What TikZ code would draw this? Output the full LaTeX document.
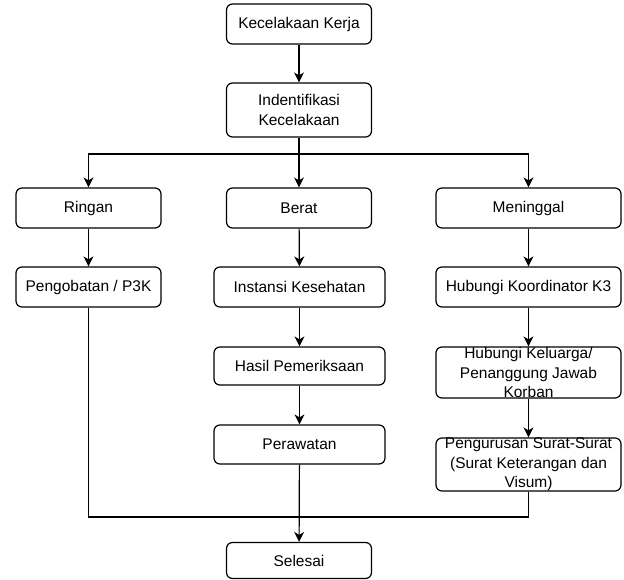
\documentclass[tikz,border=0pt]{standalone}
\usepackage{fontspec}
\setmainfont{Liberation Sans}
\usetikzlibrary{arrows.meta}

\begin{document}
\begin{tikzpicture}[x=1pt, y=-1pt,
    box/.style={draw, line width=1.2pt, rounded corners=6pt, fill=white, align=center,
        inner sep=0pt, minimum height=40pt, font=\fontsize{15.5}{19.5}\selectfont},
    line/.style={line width=1.2pt},
    arr/.style={line width=1.2pt, -{Stealth[length=10pt, width=10pt, inset=3pt]}}]
    \useasboundingbox (0,0) rectangle (624,580);
    \coordinate (split) at (299, 154);
    \coordinate (join) at (299, 517);
    \node[box, minimum width=145pt] (kerja) at (299, 24) {Kecelakaan Kerja};
    \node[box, minimum width=145pt, minimum height=54pt] (ident) at (299, 110) {Indentifikasi\\Kecelakaan};
    \node[box, minimum width=145pt] (ringan) at (88.5, 208) {Ringan};
    \node[box, minimum width=145pt] (berat) at (299, 208) {Berat};
    \node[box, minimum width=185pt] (meninggal) at (528.5, 208) {Meninggal};
    \node[box, minimum width=145pt] (p3k) at (88.5, 287) {Pengobatan / P3K};
    \node[box, minimum width=171pt] (instansi) at (299.5, 287) {Instansi Kesehatan};
    \node[box, minimum width=185pt] (koordinator) at (528.5, 287) {Hubungi Koordinator K3};
    \node[box, minimum width=171pt, minimum height=38pt] (hasil) at (299.5, 366) {Hasil Pemeriksaan};
    \node[box, minimum width=185pt, minimum height=51pt] (keluarga) at (528.5, 372.5) {Hubungi Keluarga/\\Penanggung Jawab\\Korban};
    \node[box, minimum width=171pt, minimum height=39pt] (perawatan) at (299.5, 444.5) {Perawatan};
    \node[box, minimum width=185pt, minimum height=53pt] (surat) at (528.5, 464.5) {Pengurusan Surat-Surat\\(Surat Keterangan dan\\Visum)};
    \node[box, minimum width=145pt, minimum height=36pt] (selesai) at (299, 560.5) {Selesai};
    \draw[arr] (kerja) -- (ident);
    \draw[line] (ident) -- (split);
    \draw[arr] (split) -| (ringan);
    \draw[arr] (split) -- (berat);
    \draw[arr] (split) -| (meninggal);
    \draw[arr] (ringan) -- (p3k);
    \draw[arr] (berat) -- (instansi);
    \draw[arr] (meninggal) -- (koordinator);
    \draw[arr] (instansi) -- (hasil);
    \draw[arr] (koordinator) -- (keluarga);
    \draw[arr] (hasil) -- (perawatan);
    \draw[arr] (keluarga) -- (surat);
    \draw[line] (p3k) |- (join);
    \draw[line] (surat) |- (join);
    \draw[arr] (perawatan) -- (selesai);
\end{tikzpicture}
\end{document}
